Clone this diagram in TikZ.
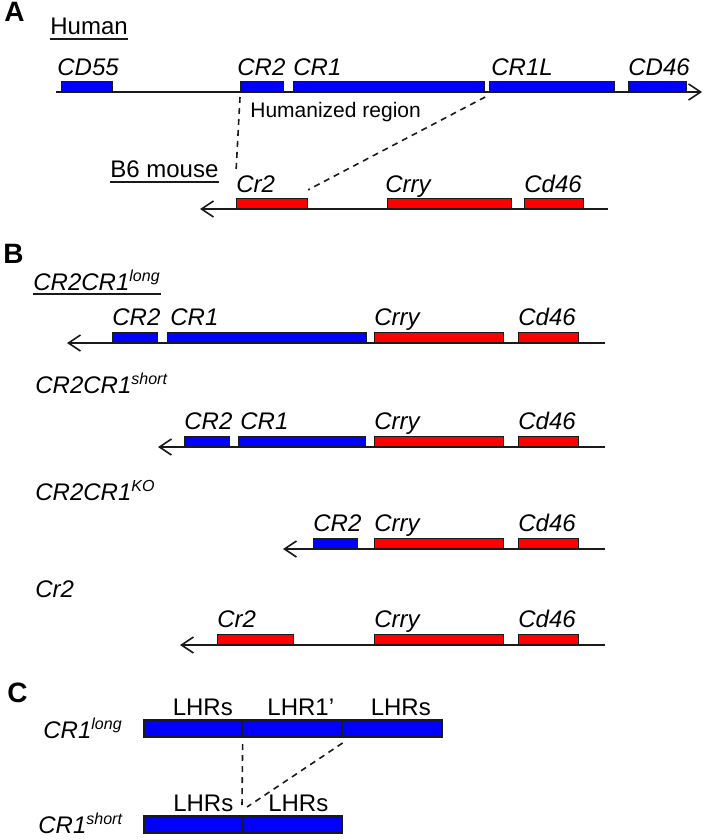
\documentclass[tikz,border=0pt]{standalone}
\usepackage{fontspec}
\setmainfont{Liberation Sans}
\usepackage{tikz}
\usetikzlibrary{positioning,arrows.meta}
\definecolor{humanblue}{HTML}{0000FF}
\definecolor{mousered}{HTML}{FF0000}
\definecolor{ink}{HTML}{1A1A1A}

\tikzset{
  hgene/.style={draw=ink, fill=humanblue, line width=0.6pt, inner sep=0pt,
                minimum height=5pt, anchor=south west},
  mgene/.style={hgene, fill=mousered},
  lhr/.style={hgene, line width=0.8pt, minimum height=8.5pt},
  glabel/.style={anchor=base west, inner sep=0pt, font=\fontsize{12}{14}\selectfont\itshape},
  title/.style={anchor=base west, inner sep=0pt, font=\fontsize{12}{14}\selectfont},
  strain/.style={title, font=\fontsize{12}{14}\selectfont\itshape},
  panel/.style={anchor=base west, inner sep=0pt, font=\fontsize{14}{16}\selectfont\bfseries},
  dom/.style={anchor=base, inner sep=0pt, font=\fontsize{12}{14}\selectfont},
  note/.style={anchor=base west, inner sep=0pt, font=\fontsize{10.5}{12}\selectfont},
  chrom/.style={draw=ink, line width=0.8pt},
  tip/.style={-{Straight Barb[length=6pt,width=8pt,line width=0.8pt]}},
  uline/.style={draw=ink, line width=0.9pt},
  link/.style={draw=ink, line width=0.8pt, dash pattern=on 3pt off 2.5pt}
}

\begin{document}
\begin{tikzpicture}[x=0.5pt, y=-0.5pt]
\useasboundingbox (0,0) rectangle (709,840);

% A: human locus and B6 mouse locus
\node[panel] (pa) at (4,22) {A};
\node[title] (human) at (50,35) {Human};
\draw[uline] ([yshift=-2pt]human.base west) -- ([yshift=-2pt]human.base east);

\coordinate (hL) at (56,92);
\coordinate (hR) at (702,92);
\draw[chrom, tip] (hL) -- (hR);
\node[hgene, minimum width=25.5pt] (cd55) at (61,92) {};
\node[hgene, minimum width=21.5pt] (cr2h) at (240,92) {};
\node[hgene, minimum width=95.5pt] (cr1h) at (293,92) {};
\node[hgene, minimum width=62.5pt] (cr1lh) at (489,92) {};
\node[hgene, minimum width=29pt] (cd46h) at (628,92) {};
\node[glabel] (lcd55) at ([xshift=-2pt,yshift=2.5pt]cd55.north west) {CD55};
\node[glabel] (lcr2h) at ([xshift=-1.5pt,yshift=2.5pt]cr2h.north west) {CR2};
\node[glabel] (lcr1h) at ([yshift=2.5pt]cr1h.north west) {CR1};
\node[glabel] (lcr1lh) at ([xshift=1pt,yshift=2.5pt]cr1lh.north west) {CR1L};
\node[glabel] (lcd46h) at ([yshift=2.5pt]cd46h.north west) {CD46};
\node[note] (hreg) at (250,118) {Humanized region};

\node[title] (b6) at (110,177) {B6 mouse};
\draw[uline] ([yshift=-2.5pt]b6.base west) -- ([yshift=-2.5pt]b6.base east);

\coordinate (mL) at (200,209);
\coordinate (mR) at (608,209);
\draw[chrom, tip] (mR) -- (mL);
\node[mgene, minimum width=35.5pt] (cr2m) at (236,209) {};
\node[mgene, minimum width=62pt] (crrym) at (387,209) {};
\node[mgene, minimum width=29.5pt] (cd46m) at (524,209) {};
\node[glabel] (lcr2m) at ([yshift=2.5pt]cr2m.north west) {Cr2};
\node[glabel] (lcrrym) at ([xshift=-1pt,yshift=2.5pt]crrym.north west) {Crry};
\node[glabel] (lcd46m) at ([yshift=2.5pt]cd46m.north west) {Cd46};

\coordinate (dA1) at (236,172);
\draw[link] ([yshift=-2.5pt]cr2h.south west) -- (dA1);
\draw[link] ([yshift=-2.5pt]cr1h.south east) -- ([yshift=4pt]cr2m.north east);

% B: the four knock-in lines
\node[panel] (pb) at (3,263) {B};
\node[strain] (tlong) at (33,290) {CR2CR1\textsuperscript{long}};
\draw[uline] ([yshift=-2pt]tlong.base west) -- ([yshift=-2pt]tlong.base east);

\coordinate (aL) at (67,343);
\coordinate (aR) at (605,343);
\draw[chrom, tip] (aR) -- (aL);
\node[hgene, minimum width=22.5pt] (cr2a) at (112,343) {};
\node[hgene, minimum width=99.5pt] (cr1a) at (167,343) {};
\node[mgene, minimum width=64.5pt] (crrya) at (374,343) {};
\node[mgene, minimum width=30pt] (cd46a) at (518,343) {};
\node[glabel] (lcr2a) at ([yshift=3pt]cr2a.north west) {CR2};
\node[glabel] (lcr1a) at ([xshift=1.5pt,yshift=3pt]cr1a.north west) {CR1};
\node[glabel] (lcrrya) at ([yshift=3pt]crrya.north west) {Crry};
\node[glabel] (lcd46a) at ([yshift=3pt]cd46a.north west) {Cd46};

\node[strain] (tshort) at (35,393) {CR2CR1\textsuperscript{short}};
\coordinate (bL) at (158,447);
\coordinate (bR) at (605,447);
\draw[chrom, tip] (bR) -- (bL);
\node[hgene, minimum width=22.5pt] (cr2b) at (184,447) {};
\node[hgene, minimum width=63.5pt] (cr1b) at (238,447) {};
\node[mgene, minimum width=64.5pt] (crryb) at (374,447) {};
\node[mgene, minimum width=30pt] (cd46b) at (518,447) {};
\node[glabel] (lcr2b) at ([yshift=3pt]cr2b.north west) {CR2};
\node[glabel] (lcr1b) at ([xshift=1pt,yshift=3pt]cr1b.north west) {CR1};
\node[glabel] (lcrryb) at ([yshift=3pt]crryb.north west) {Crry};
\node[glabel] (lcd46b) at ([yshift=3pt]cd46b.north west) {Cd46};

\node[strain] (tko) at (35,500) {CR2CR1\textsuperscript{KO}};
\coordinate (cL) at (283,549);
\coordinate (cR) at (605,549);
\draw[chrom, tip] (cR) -- (cL);
\node[hgene, minimum width=22pt] (cr2c) at (313,549) {};
\node[mgene, minimum width=64.5pt] (crryc) at (374,549) {};
\node[mgene, minimum width=30pt] (cd46c) at (518,549) {};
\node[glabel] (lcr2c) at ([yshift=3pt]cr2c.north west) {CR2};
\node[glabel] (lcrryc) at ([yshift=3pt]crryc.north west) {Crry};
\node[glabel] (lcd46c) at ([yshift=3pt]cd46c.north west) {Cd46};

\node[strain] (tcr2) at (35,597) {Cr2};
\coordinate (dL) at (180,645);
\coordinate (dR) at (605,645);
\draw[chrom, tip] (dR) -- (dL);
\node[mgene, minimum width=38pt] (cr2d) at (217,645) {};
\node[mgene, minimum width=64.5pt] (crryd) at (374,645) {};
\node[mgene, minimum width=30pt] (cd46d) at (518,645) {};
\node[glabel] (lcr2d) at ([yshift=3pt]cr2d.north west) {Cr2};
\node[glabel] (lcrryd) at ([yshift=3pt]crryd.north west) {Crry};
\node[glabel] (lcd46d) at ([yshift=3pt]cd46d.north west) {Cd46};

% C: long and short CR1 repeats
\node[panel] (pc) at (7,702) {C};
\node[strain] (tl) at (43,738) {CR1\textsuperscript{long}};
\node[lhr, minimum width=49pt] (l1) at (143,738) {};
\node[lhr, minimum width=50pt] (l2) at (241,738) {};
\node[lhr, minimum width=50pt] (l3) at (341,738) {};
\node[dom] (ll1) at ([xshift=5pt,yshift=2pt]l1.north) {LHRs};
\node[dom] (ll2) at ([xshift=4.5pt,yshift=2pt]l2.north) {LHR1’};
\node[dom] (ll3) at ([xshift=4.5pt,yshift=2pt]l3.north) {LHRs};

\node[strain] (ts) at (38,833) {CR1\textsuperscript{short}};
\node[lhr, minimum width=49.5pt] (s1) at (143,834) {};
\node[lhr, minimum width=49.5pt] (s2) at (242,834) {};
\node[dom] (ls1) at ([xshift=5pt,yshift=2pt]s1.north) {LHRs};
\node[dom] (ls2) at ([xshift=3pt,yshift=2pt]s2.north) {LHRs};

\coordinate (dC1) at (242,807);
\coordinate (dC2) at (247,807);
\draw[link] ([yshift=-3pt]l1.south east) -- (dC1);
\draw[link] ([yshift=-2.5pt]l2.south east) -- (dC2);
\end{tikzpicture}
\end{document}
